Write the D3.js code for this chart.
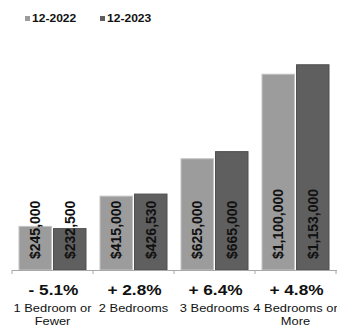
<!DOCTYPE html>
<html>
<head>
<meta charset="utf-8">
<script src="https://cdn.jsdelivr.net/npm/d3@7"></script>
<style>
  body { margin: 0; background: #fff; }
  text { font-family: "Liberation Sans", Arial, sans-serif; }
</style>
</head>
<body>
<script>
'use strict';

// chart data
const categories = [["1 Bedroom or", "Fewer"], ["2 Bedrooms"], ["3 Bedrooms"], ["4 Bedrooms or", "More"]];
const series = ["12-2022", "12-2023"];
const values2022 = [245000, 415000, 625000, 1100000];
const values2023 = [232500, 426530, 665000, 1153000];
const changeLabels = ["- 5.1%", "+ 2.8%", "+ 6.4%", "+ 4.8%"];

(function() {
  const width = 337, height = 328;
  const colors = { "12-2022": "#9c9c9c", "12-2023": "#5f5f5f" };
  const strokes = { "12-2022": "#c4c4c4", "12-2023": "#4e4e4e" };
  const stretch = 1.15; // reference text looks horizontally stretched

  let svg = d3.select('body')
    .append('svg')
    .attr('width', width)
    .attr('height', height);

  let keys = categories.map((c) => c.join(' '));

  // band per category, then a band per series inside
  let xScale = d3.scaleBand()
    .domain(keys)
    .range([12, 336]);

  let xInner = d3.scaleBand()
    .domain(series)
    .range([7, 74])
    .paddingInner(0.06);

  let yScale = d3.scaleLinear()
    .domain([0, 1200000])
    .range([270, 56.4]);

  let rows = [];
  keys.forEach((k, i) => {
    rows.push({ cat: k, s: series[0], v: values2022[i] });
    rows.push({ cat: k, s: series[1], v: values2023[i] });
  });

  // bars
  svg.selectAll('.bar')
    .data(rows)
    .enter()
    .append('rect')
      .attr('x', (d) => xScale(d.cat) + xInner(d.s))
      .attr('y', (d) => yScale(d.v))
      .attr('width', xInner.bandwidth())
      .attr('height', (d) => yScale(0) - yScale(d.v))
      .attr('fill', (d) => colors[d.s])
      .attr('stroke', (d) => strokes[d.s])
      .attr('stroke-width', 1);

  // value labels, rotated, starting near the base
  let fmt = d3.format(',');
  svg.selectAll('.val')
    .data(rows)
    .enter()
    .append('text')
      .attr('transform', (d) => 'translate(' + (xScale(d.cat) + xInner(d.s) + xInner.bandwidth() / 2) + ',259) rotate(-90)')
      .attr('dominant-baseline', 'central')
      .attr('text-anchor', 'start')
      .style('font-size', '14px')
      .style('font-weight', 'bold')
      .attr('fill', '#111')
      .text((d) => '$' + fmt(d.v));

  // axis line with ticks between groups
  let xAxis = d3.axisBottom(xScale).tickSize(0).tickFormat('');
  let ax = svg.append('g')
    .attr('transform', 'translate(0,270)')
    .call(xAxis);
  ax.select('.domain').attr('stroke', '#a8a8a8').attr('d', 'M12,0.5H337');
  ax.selectAll('.sep')
    .data(keys.concat(['end']))
    .enter()
    .append('line')
      .attr('x1', (d, i) => i < keys.length ? xScale(d) : xScale.range()[1])
      .attr('x2', (d, i) => i < keys.length ? xScale(d) : xScale.range()[1])
      .attr('y1', 0)
      .attr('y2', 4)
      .attr('stroke', '#a8a8a8');

  // percent change labels
  svg.selectAll('.pct')
    .data(changeLabels)
    .enter()
    .append('text')
      .attr('transform', (d, i) => 'translate(' + (xScale(keys[i]) + xScale.bandwidth() / 2 + 1) + ',295) scale(' + stretch + ',1)')
      .attr('text-anchor', 'middle')
      .style('font-size', '15px')
      .style('font-weight', 'bold')
      .attr('fill', '#111')
      .text((d) => d);

  // category labels (two lines where needed)
  categories.forEach((lines, i) => {
    lines.forEach((line, j) => {
      svg.append('text')
        .attr('transform', 'translate(' + (xScale(keys[i]) + xScale.bandwidth() / 2) + ',' + (312 + j * 13) + ') scale(' + stretch + ',1)')
        .attr('text-anchor', 'middle')
        .style('font-size', '11.2px')
        .attr('fill', '#111')
        .text(line);
    });
  });

  // legend
  let legendX = [25, 100];
  series.forEach((s, i) => {
    svg.append('rect')
      .attr('x', legendX[i])
      .attr('y', 16)
      .attr('width', 5)
      .attr('height', 5)
      .attr('fill', colors[s]);
    svg.append('text')
      .attr('transform', 'translate(' + (legendX[i] + 7) + ',22) scale(' + stretch + ',1)')
      .style('font-size', '10.5px')
      .style('font-weight', 'bold')
      .attr('fill', '#111')
      .text(s);
  });
})();
</script>
</body>
</html>
